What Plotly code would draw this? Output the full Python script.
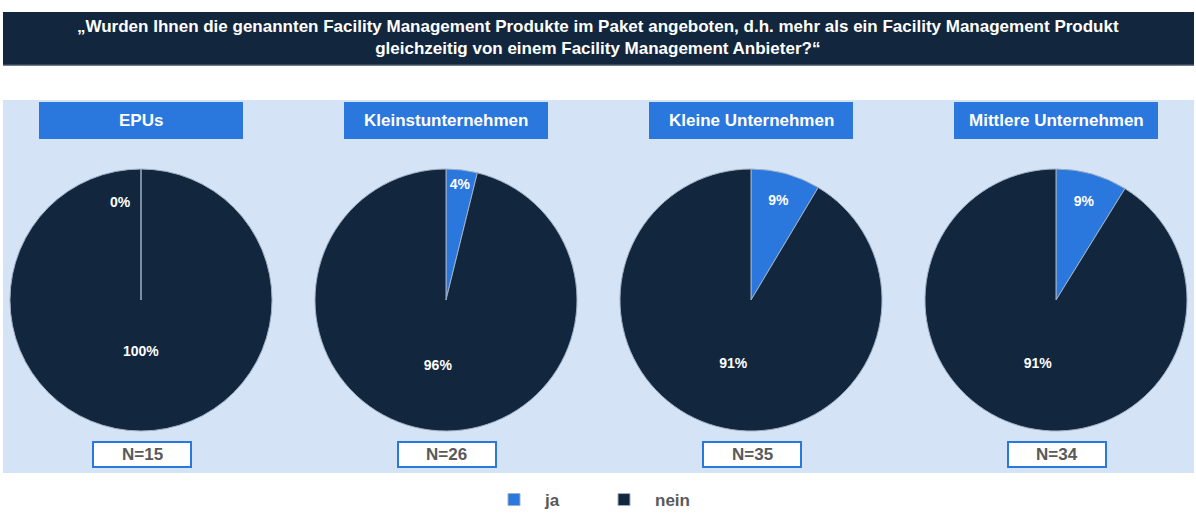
import plotly.graph_objects as go

groups = ["EPUs", "Kleinstunternehmen", "Kleine Unternehmen", "Mittlere Unternehmen"]
answers = ["ja", "nein"]
ja_counts = [0, 1, 3, 3]
nein_counts = [15, 25, 32, 31]
n_labels = ["N=15", "N=26", "N=35", "N=34"]

W, H = 1196, 513
NAVY = "#12273d"
BLUE = "#2a77dd"
PANEL = "#d5e3f6"
SEP = "#9fb0c4"
FONT = "Liberation Sans, Arial, sans-serif"

centers = [141, 446, 751, 1056]
radius = 131
cy = 300

fig = go.Figure()

def px_x(x):
    return x / W

def px_y(y):
    return 1 - y / H

shapes = []
annotations = []

for i, g in enumerate(groups):
    cx = centers[i]
    vals = [ja_counts[i], nein_counts[i]]
    total = sum(vals)
    full = [v == total for v in vals]
    # plotly centres the label of a full-circle slice; place it as in the original instead
    templates = ["" if f else "%{percent:.0%}" for f in full]
    fig.add_trace(go.Pie(
        labels=answers,
        values=vals,
        sort=False,
        direction="clockwise",
        rotation=0,
        domain=dict(x=[px_x(cx - radius), px_x(cx + radius)],
                    y=[px_y(cy + radius), px_y(cy - radius)]),
        marker=dict(colors=[BLUE, NAVY], line=dict(color=SEP, width=1)),
        texttemplate=templates,
        textposition="inside",
        insidetextorientation="horizontal",
        textfont=dict(color="white", size=14, family=FONT, weight="bold"),
        hoverinfo="label+value+percent",
        showlegend=(i == 0),
        name=g,
    ))
    if any(full):
        annotations.append(dict(xref="paper", yref="paper", x=px_x(cx), y=px_y(cy + 51),
                                xanchor="center", yanchor="middle", text="100%", showarrow=False,
                                font=dict(color="white", size=14, family=FONT, weight="bold")))
    if ja_counts[i] == 0:
        # zero-value slices are not drawn by plotly: mark them as in the original
        shapes.append(dict(type="line", xref="paper", yref="paper",
                           x0=px_x(cx), x1=px_x(cx), y0=px_y(cy), y1=px_y(cy - radius),
                           line=dict(color=SEP, width=1.5)))
        annotations.append(dict(xref="paper", yref="paper", x=px_x(cx - 21), y=px_y(202),
                                xanchor="center", yanchor="middle", text="0%", showarrow=False,
                                font=dict(color="white", size=14, family=FONT, weight="bold")))

# title bar
shapes.append(dict(type="rect", xref="paper", yref="paper",
                   x0=px_x(3), x1=px_x(1194), y0=px_y(65), y1=px_y(12),
                   fillcolor=NAVY, line=dict(width=0), layer="below"))
shapes.append(dict(type="line", xref="paper", yref="paper",
                   x0=px_x(3), x1=px_x(1194), y0=px_y(65), y1=px_y(65),
                   line=dict(color="#3f5266", width=1.5), layer="below"))
annotations.append(dict(
    xref="paper", yref="paper", x=0.5, y=px_y(37), xanchor="center", yanchor="middle",
    text="„Wurden Ihnen die genannten Facility Management Produkte im Paket angeboten, d.h. mehr als ein Facility Management Produkt<br>gleichzeitig von einem Facility Management Anbieter?“",
    showarrow=False, align="center",
    font=dict(color="white", size=17, family=FONT, weight="bold"),
))

# light panel
shapes.append(dict(type="rect", xref="paper", yref="paper",
                   x0=px_x(3), x1=px_x(1194), y0=px_y(473), y1=px_y(100),
                   fillcolor=PANEL, line=dict(width=0), layer="below"))

for i, g in enumerate(groups):
    cx = centers[i]
    shapes.append(dict(type="rect", xref="paper", yref="paper",
                       x0=px_x(cx - 102), x1=px_x(cx + 102), y0=px_y(139), y1=px_y(102),
                       fillcolor=BLUE, line=dict(width=0), layer="below"))
    annotations.append(dict(xref="paper", yref="paper", x=px_x(cx), y=px_y(120.5),
                            xanchor="center", yanchor="middle", text=g, showarrow=False,
                            font=dict(color="white", size=17, family=FONT, weight="bold")))
    shapes.append(dict(type="rect", xref="paper", yref="paper",
                       x0=px_x(cx - 48), x1=px_x(cx + 50), y0=px_y(467), y1=px_y(442),
                       fillcolor="white", line=dict(color=BLUE, width=2)))
    annotations.append(dict(xref="paper", yref="paper", x=px_x(cx + 1), y=px_y(454.5),
                            xanchor="center", yanchor="middle", text=n_labels[i], showarrow=False,
                            font=dict(color="#595959", size=17, family=FONT, weight="bold")))

fig.update_layout(
    width=W, height=H,
    margin=dict(l=0, r=0, t=0, b=0, autoexpand=False),
    paper_bgcolor="white",
    plot_bgcolor="white",
    shapes=shapes,
    annotations=annotations,
    legend=dict(orientation="h", x=px_x(483), xanchor="left", y=px_y(500), yanchor="middle",
                font=dict(color="#595959", size=17, family=FONT, weight="bold"),
                itemwidth=52, entrywidth=43, entrywidthmode="pixels",
                traceorder="normal", bgcolor="rgba(0,0,0,0)"),
)

fig.write_html("out.html", config={"displayModeBar": False},
               post_script="document.body.style.margin='0px';")
